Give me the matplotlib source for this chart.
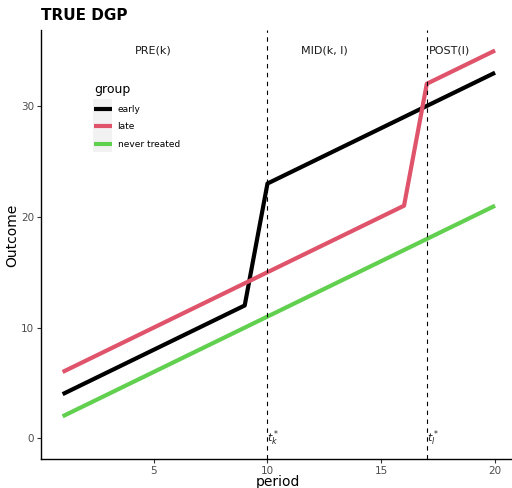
import matplotlib
matplotlib.use("Agg")
import matplotlib.pyplot as plt
from matplotlib.patches import Rectangle

period = list(range(1, 21))
early = [4, 5, 6, 7, 8, 9, 10, 11, 12, 23, 24, 25, 26, 27, 28, 29, 30, 31, 32, 33]
late = [6, 7, 8, 9, 10, 11, 12, 13, 14, 15, 16, 17, 18, 19, 20, 21, 32, 33, 34, 35]
never = [2, 3, 4, 5, 6, 7, 8, 9, 10, 11, 12, 13, 14, 15, 16, 17, 18, 19, 20, 21]
groups = ["early", "late", "never treated"]
colors = ["#000000", "#DF536B", "#61D04F"]
t_k, t_l = 10, 17
regions = ["PRE(k)", "MID(k, l)", "POST(l)"]
region_x = [5, 12.5, 18]
region_y = 35

W, H = 512, 488
fig = plt.figure(figsize=(W / 100, H / 100), dpi=100)
ax = fig.add_axes([41 / W, 1 - 459 / H, (516.7 - 41) / W, (459 - 30) / H])

for vals, g, c in zip([early, late, never], groups, colors):
    ax.plot(period, vals, color=c, lw=3.0, label=g, solid_capstyle="butt")

for t in (t_k, t_l):
    ax.axvline(t, color="black", lw=0.8, ls=(0, (4, 4)))

for txt, x in zip(regions, region_x):
    ax.text(x, region_y, txt, ha="center", va="center", fontsize=8, color="#1A1A1A")

ax.text(t_k, 0, r"$t_k^*$", ha="left", va="center", fontsize=8, color="#1A1A1A")
ax.text(t_l, 0, r"$t_l^*$", ha="left", va="center", fontsize=8, color="#1A1A1A")

ax.set_xlim(0.05, 20.95)
ax.set_ylim(-1.85, 36.85)
ax.set_xticks([5, 10, 15, 20])
ax.set_yticks([0, 10, 20, 30])
for s in ["top", "right"]:
    ax.spines[s].set_visible(False)
for s in ["left", "bottom"]:
    ax.spines[s].set_linewidth(1.0)
ax.tick_params(axis="both", labelsize=7.5, labelcolor="#4D4D4D", color="#333333", length=3, pad=2)

fig.text(278 / W, 1 - 482 / H, "period", fontsize=10, ha="center", va="center")
fig.text(12 / W, 1 - 235 / H, "Outcome", fontsize=10, ha="center", va="center", rotation=90)
fig.text(41 / W, 1 - 16 / H, "TRUE DGP", fontsize=11, fontweight="bold", ha="left", va="center")

ax.add_patch(Rectangle((93 / W, 1 - 152 / H), 19 / W, 53 / H,
                       transform=fig.transFigure, facecolor="#F2F2F2", edgecolor="none",
                       zorder=4, clip_on=False))
leg = ax.legend(loc="upper left", bbox_to_anchor=(86 / W, 1 - 75 / H), bbox_transform=fig.transFigure,
                frameon=False, title="group", fontsize=6.5, title_fontsize=9,
                handlelength=2.0, handletextpad=0.6, labelspacing=0.95)
leg._legend_box.align = "left"
leg.set_zorder(6)

fig.savefig("out.png", dpi=100)
